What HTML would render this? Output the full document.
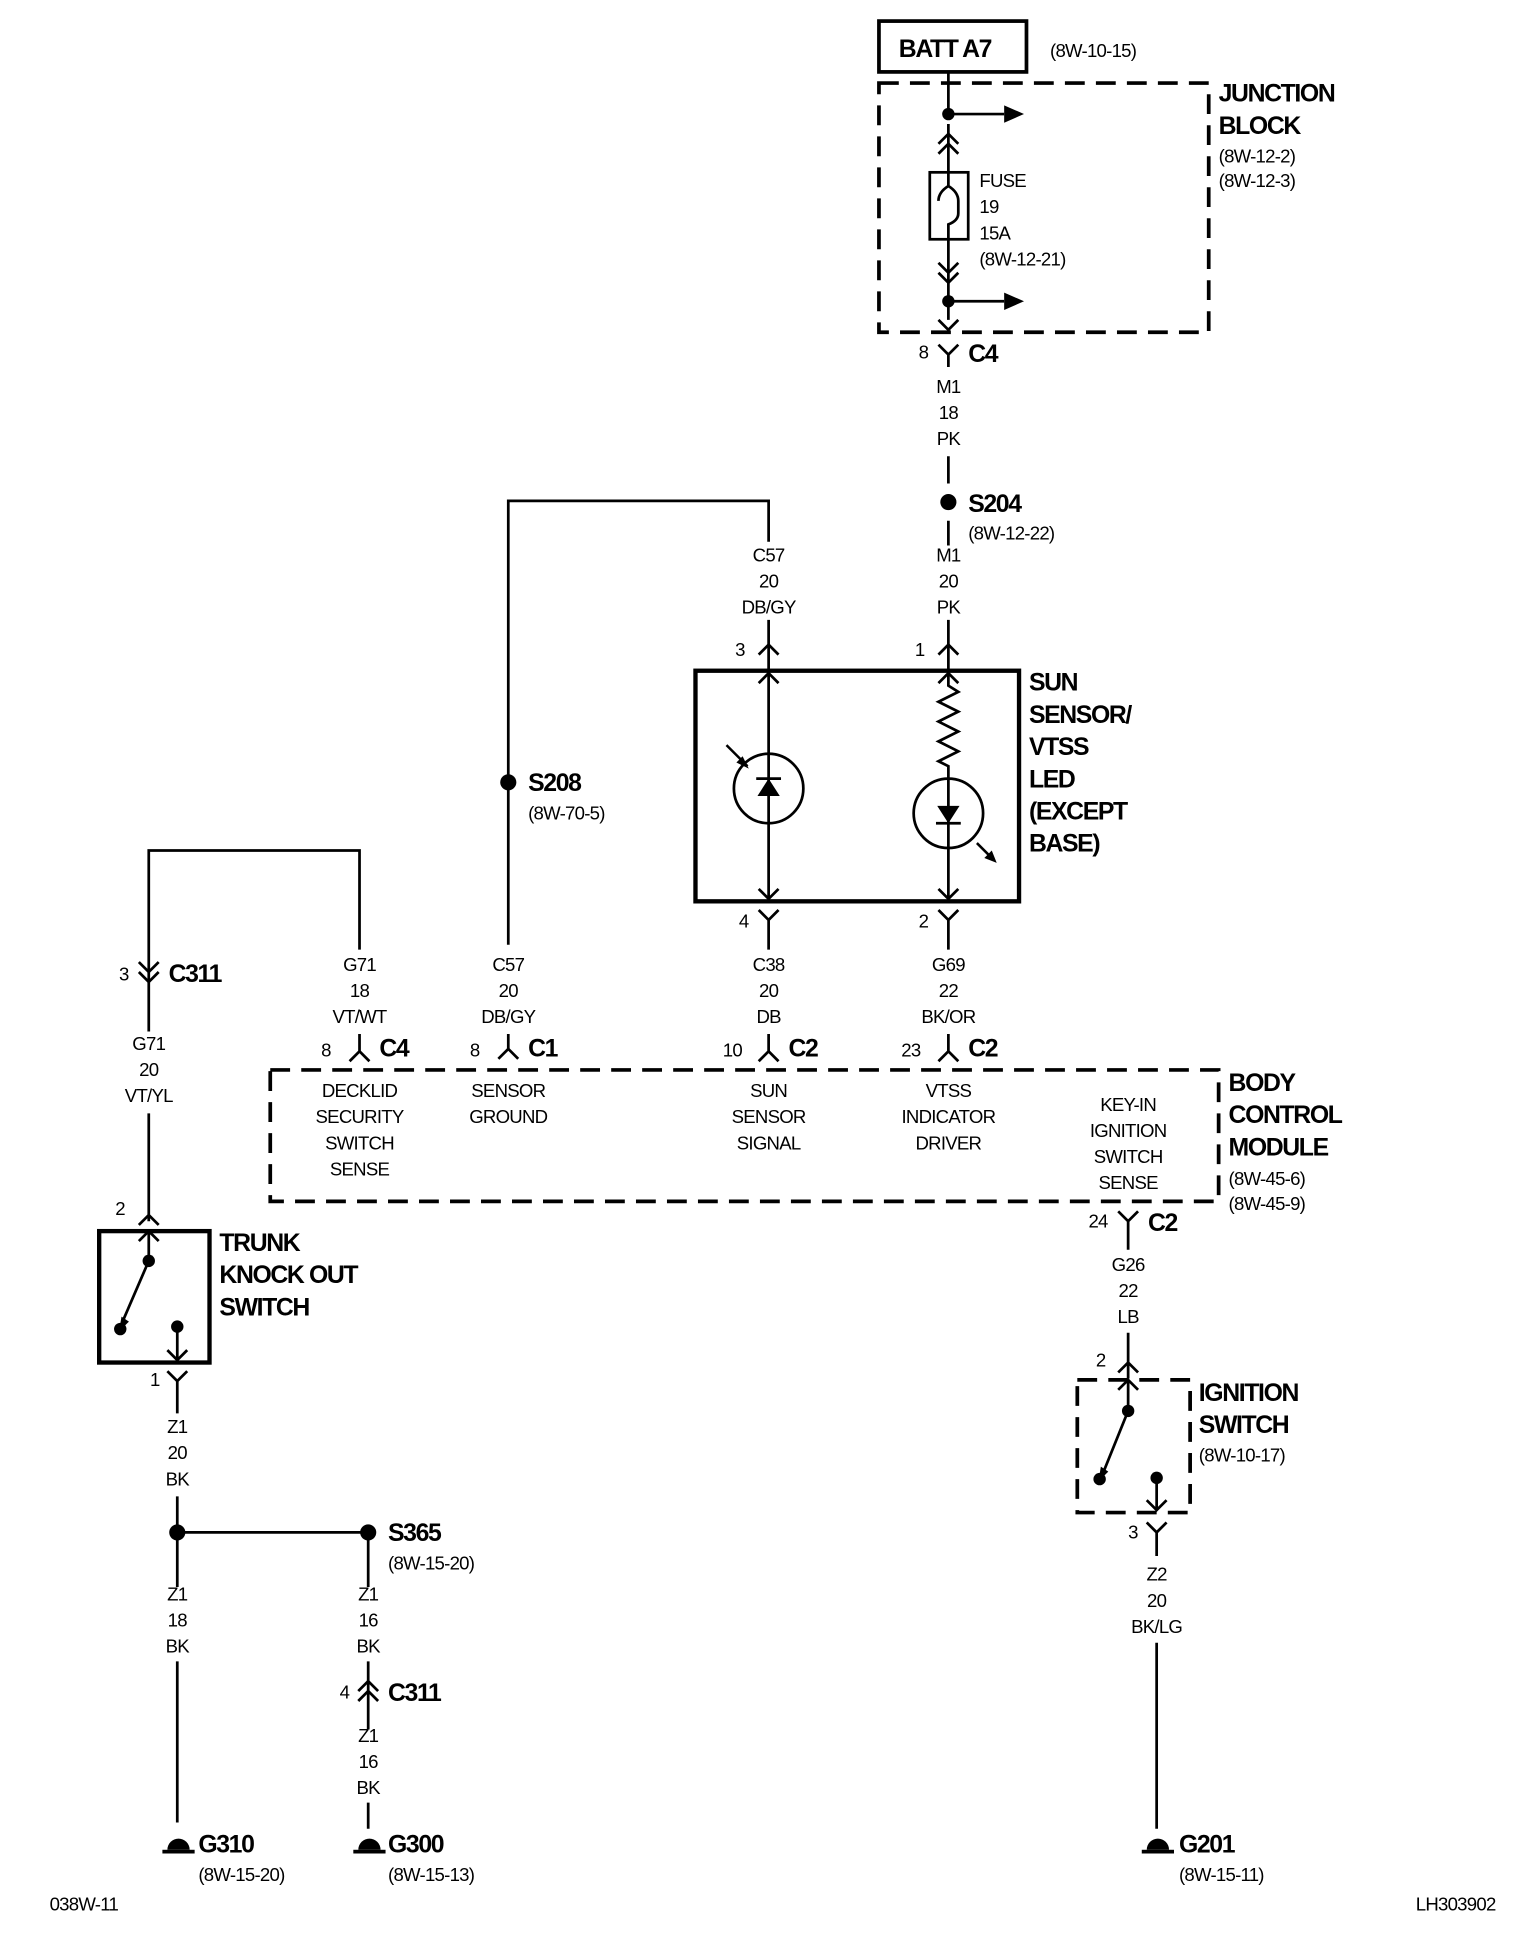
<!DOCTYPE html>
<html><head><meta charset="utf-8"><style>
html,body{margin:0;padding:0;background:#fff}
svg{display:block}
text{font-family:"Liberation Sans",sans-serif;fill:#000}
.s{font-size:15px;text-anchor:middle;letter-spacing:-0.6px}
.l{font-size:15px;letter-spacing:-0.6px}
.b{font-size:20px;font-weight:bold;letter-spacing:-1.1px}
</style></head><body>
<svg width="1536" height="1944" viewBox="0 0 1239 1568" preserveAspectRatio="none" xmlns="http://www.w3.org/2000/svg">
<g fill="none" stroke="#000" stroke-width="2.2">
<rect x="709" y="17" width="119" height="41" stroke-width="3"/>
<rect x="709" y="67" width="266" height="201" stroke-width="3" stroke-dasharray="16 9"/>
<path d="M765 58V92M765 92H810M765 100V139M765 193V258M765 243H810"/>
<path d="M757 116L765 108L773 116M757 124L765 116L773 124"/>
<path d="M757 212L765 220L773 212M757 220L765 228L773 220"/>
<path d="M757 258L765 266L773 258"/>
<rect x="750" y="139" width="31" height="54"/>
<path d="M765 139V150Q773 155 773 162V172Q773 178 765 181V193M765 150Q757 155 757 162" />
<path d="M757 278L765 286L773 278M765 286V296"/>
<path d="M765 368V390M765 420V440M765 500V541"/>
<path d="M757 528L765 520L773 528"/>
<path d="M620 437V404H410V762M410 834V846M620 500V541"/>
<path d="M612 528L620 520L628 528"/>
<path d="M402 854L410 846L418 854"/>
<rect x="561" y="541" width="261" height="186" stroke-width="3.5"/>
<path d="M620 541V727M612 551L620 543L628 551M612 717L620 725L628 717"/>
<circle cx="620" cy="636" r="28"/>
<path d="M610 628H630"/>
<path d="M765 541V553L773 558L757 566L773 574L757 582L773 590L757 598L773 606L757 614L765 618V727M757 551L765 543L773 551M757 717L765 725L773 717"/>
<circle cx="765" cy="656" r="28"/>
<path d="M755 664H775"/>
<path d="M612 734L620 742L628 734M620 742V766M757 734L765 742L773 734M765 742V766"/>
<path d="M620 834V848M765 834V848M612 856L620 848L628 856M757 856L765 848L773 856"/>
<path d="M290 766V686H120V832"/>
<path d="M112 776L120 784L128 776M112 784L120 792L128 784"/>
<path d="M290 834V848M282 856L290 848L298 856"/>
<path d="M120 898V985M112 988L120 980L128 988"/>
<rect x="218" y="863" width="765" height="106" stroke-width="3" stroke-dasharray="16 9"/>
<rect x="80" y="993" width="89" height="106" stroke-width="3.5"/>
<path d="M120 993V1017M112 1001L120 993L128 1001M120 1017L98 1068M143 1070V1097M135 1089L143 1097L151 1089"/>
<path d="M135 1106L143 1114L151 1106M143 1114V1140M143 1207V1280M143 1340V1470M143 1236H297M297 1236V1280M297 1340V1395M297 1454V1475"/>
<path d="M289 1364L297 1356L305 1364M289 1372L297 1364L305 1372"/>
<path d="M902 977L910 985L918 977M910 985V1008M910 1075V1112M902 1107L910 1099L918 1107"/>
<rect x="869" y="1113" width="91" height="107" stroke-width="3" stroke-dasharray="16 9"/>
<path d="M910 1113V1138M902 1121L910 1113L918 1121M910 1138L889 1190M933 1192V1218M925 1210L933 1218L941 1210"/>
<path d="M925 1228L933 1236L941 1228M933 1236V1255M933 1325V1475"/>
</g>
<g fill="#000">
<circle cx="765" cy="92" r="5"/><circle cx="765" cy="243" r="5"/>
<path d="M810 85L826 92L810 99Z"/><path d="M810 236L826 243L810 250Z"/>
<circle cx="765" cy="405" r="6.5"/><circle cx="410" cy="631" r="6.5"/>
<path d="M611 642L629 642L620 628Z"/>
<path d="M756 650L774 650L765 664Z"/>
<path d="M586 601L603 618" stroke="#000" stroke-width="2"/><path d="M604 620L594 615L599 610Z"/>
<path d="M788 680L800 692" stroke="#000" stroke-width="2"/><path d="M804 696L794 692L800 686Z"/>
<circle cx="120" cy="1017" r="5"/><circle cx="97" cy="1072" r="5"/><circle cx="143" cy="1070" r="5"/>
<path d="M96 1074L98 1062L104 1066Z"/>
<circle cx="910" cy="1138" r="5"/><circle cx="887" cy="1193" r="5"/><circle cx="933" cy="1192" r="5"/>
<path d="M886 1195L888 1183L894 1187Z"/>
<circle cx="143" cy="1236" r="6.5"/><circle cx="297" cy="1236" r="6.5"/>
<path d="M135 1492A9 9 0 0 1 153 1492Z"/><rect x="131" y="1492" width="26" height="3"/>
<path d="M289 1492A9 9 0 0 1 307 1492Z"/><rect x="285" y="1492" width="26" height="3"/>
<path d="M925 1492A9 9 0 0 1 943 1492Z"/><rect x="921" y="1492" width="26" height="3"/>
</g>
<text class="b" x="725" y="46">BATT A7</text>
<text class="l" x="847" y="46">(8W-10-15)</text>
<text class="b" x="983" y="82">JUNCTION</text><text class="b" x="983" y="108">BLOCK</text>
<text class="l" x="983" y="131">(8W-12-2)</text><text class="l" x="983" y="151">(8W-12-3)</text>
<text class="l" x="790" y="151">FUSE</text><text class="l" x="790" y="172">19</text><text class="l" x="790" y="193">15A</text><text class="l" x="790" y="214">(8W-12-21)</text>
<text class="l" x="741" y="289">8</text><text class="b" x="781" y="292">C4</text>
<text class="s" x="765" y="317">M1</text><text class="s" x="765" y="338">18</text><text class="s" x="765" y="359">PK</text>
<text class="b" x="781" y="413">S204</text><text class="l" x="781" y="435">(8W-12-22)</text>
<text class="s" x="765" y="453">M1</text><text class="s" x="765" y="474">20</text><text class="s" x="765" y="495">PK</text>
<text class="s" x="620" y="453">C57</text><text class="s" x="620" y="474">20</text><text class="s" x="620" y="495">DB/GY</text>
<text class="l" x="738" y="529">1</text><text class="l" x="593" y="529">3</text>
<text class="b" x="830" y="557">SUN</text><text class="b" x="830" y="583">SENSOR/</text><text class="b" x="830" y="609">VTSS</text><text class="b" x="830" y="635">LED</text><text class="b" x="830" y="661">(EXCEPT</text><text class="b" x="830" y="687">BASE)</text>
<text class="b" x="426" y="638">S208</text><text class="l" x="426" y="661">(8W-70-5)</text>
<text class="l" x="596" y="748">4</text><text class="l" x="741" y="748">2</text>
<text class="s" x="620" y="783">C38</text><text class="s" x="620" y="804">20</text><text class="s" x="620" y="825">DB</text>
<text class="s" x="765" y="783">G69</text><text class="s" x="765" y="804">22</text><text class="s" x="765" y="825">BK/OR</text>
<text class="s" x="410" y="783">C57</text><text class="s" x="410" y="804">20</text><text class="s" x="410" y="825">DB/GY</text>
<text class="s" x="290" y="783">G71</text><text class="s" x="290" y="804">18</text><text class="s" x="290" y="825">VT/WT</text>
<text class="l" x="96" y="791">3</text><text class="b" x="136" y="792">C311</text>
<text class="s" x="120" y="847">G71</text><text class="s" x="120" y="868">20</text><text class="s" x="120" y="889">VT/YL</text>
<text class="l" x="259" y="852">8</text><text class="b" x="306" y="852">C4</text>
<text class="l" x="379" y="852">8</text><text class="b" x="426" y="852">C1</text>
<text class="l" x="583" y="852">10</text><text class="b" x="636" y="852">C2</text>
<text class="l" x="727" y="852">23</text><text class="b" x="781" y="852">C2</text>
<text class="s" x="290" y="885">DECKLID</text><text class="s" x="290" y="906">SECURITY</text><text class="s" x="290" y="927">SWITCH</text><text class="s" x="290" y="948">SENSE</text>
<text class="s" x="410" y="885">SENSOR</text><text class="s" x="410" y="906">GROUND</text>
<text class="s" x="620" y="885">SUN</text><text class="s" x="620" y="906">SENSOR</text><text class="s" x="620" y="927">SIGNAL</text>
<text class="s" x="765" y="885">VTSS</text><text class="s" x="765" y="906">INDICATOR</text><text class="s" x="765" y="927">DRIVER</text>
<text class="s" x="910" y="896">KEY-IN</text><text class="s" x="910" y="917">IGNITION</text><text class="s" x="910" y="938">SWITCH</text><text class="s" x="910" y="959">SENSE</text>
<text class="b" x="991" y="880">BODY</text><text class="b" x="991" y="906">CONTROL</text><text class="b" x="991" y="932">MODULE</text>
<text class="l" x="991" y="956">(8W-45-6)</text><text class="l" x="991" y="976">(8W-45-9)</text>
<text class="l" x="878" y="990">24</text><text class="b" x="926" y="993">C2</text>
<text class="s" x="910" y="1025">G26</text><text class="s" x="910" y="1046">22</text><text class="s" x="910" y="1067">LB</text>
<text class="l" x="884" y="1102">2</text>
<text class="b" x="967" y="1130">IGNITION</text><text class="b" x="967" y="1156">SWITCH</text><text class="l" x="967" y="1179">(8W-10-17)</text>
<text class="l" x="910" y="1241">3</text>
<text class="s" x="933" y="1275">Z2</text><text class="s" x="933" y="1296">20</text><text class="s" x="933" y="1317">BK/LG</text>
<text class="l" x="93" y="980">2</text>
<text class="b" x="177" y="1009">TRUNK</text><text class="b" x="177" y="1035">KNOCK OUT</text><text class="b" x="177" y="1061">SWITCH</text>
<text class="l" x="121" y="1118">1</text>
<text class="s" x="143" y="1156">Z1</text><text class="s" x="143" y="1177">20</text><text class="s" x="143" y="1198">BK</text>
<text class="b" x="313" y="1243">S365</text><text class="l" x="313" y="1266">(8W-15-20)</text>
<text class="s" x="143" y="1291">Z1</text><text class="s" x="143" y="1312">18</text><text class="s" x="143" y="1333">BK</text>
<text class="s" x="297" y="1291">Z1</text><text class="s" x="297" y="1312">16</text><text class="s" x="297" y="1333">BK</text>
<text class="l" x="274" y="1370">4</text><text class="b" x="313" y="1372">C311</text>
<text class="s" x="297" y="1405">Z1</text><text class="s" x="297" y="1426">16</text><text class="s" x="297" y="1447">BK</text>
<text class="b" x="160" y="1494">G310</text><text class="l" x="160" y="1517">(8W-15-20)</text>
<text class="b" x="313" y="1494">G300</text><text class="l" x="313" y="1517">(8W-15-13)</text>
<text class="b" x="951" y="1494">G201</text><text class="l" x="951" y="1517">(8W-15-11)</text>
<text class="l" x="40" y="1541">038W-11</text><text class="l" x="1142" y="1541">LH303902</text>
</svg>
</body></html>
